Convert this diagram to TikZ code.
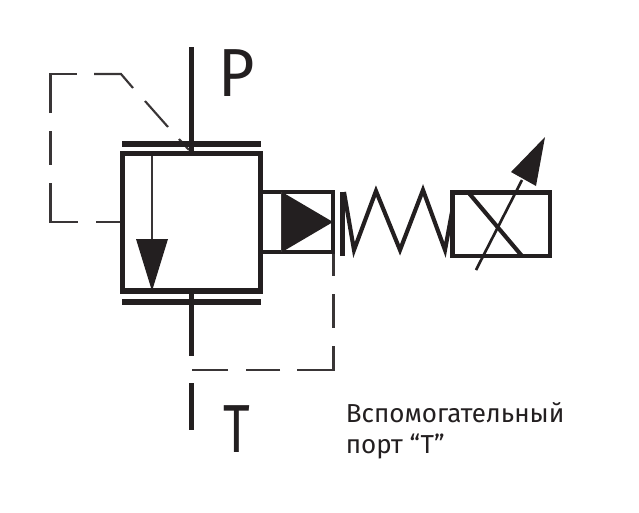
\documentclass[tikz,border=0pt]{standalone}
\usepackage{graphicx}
\usepackage{fontspec}
\setmainfont{Fira Sans}
\definecolor{ink}{RGB}{35,31,32}
\tikzset{
  heavy/.style={draw=ink,line width=3.9pt},
  medium/.style={draw=ink,line width=3.1pt,line join=miter},
  thinl/.style={draw=ink!90,line width=1.6pt},
  fillk/.style={fill=ink,draw=none},
  big/.style={text=ink,inner sep=0pt,anchor=center,font=\fontsize{51}{51}\selectfont},
  lbl/.style={text=ink,inner sep=0pt,anchor=base west,font=\fontsize{19.5}{19.5}\selectfont}
}
\begin{document}
\begin{tikzpicture}[x=0.75pt,y=-0.75pt]
\useasboundingbox (0,0) rectangle (639,512);
% dashed pilot lines
\draw[thinl,line join=miter] (50.5,113) -- (50.5,74) -- (77,74);
\draw[thinl,line join=miter] (94,74) -- (121,74) -- (133,88);
\draw[thinl] (145,101) -- (168,127);
\draw[thinl] (179,139) -- (189,150);
\draw[thinl] (50.5,131) -- (50.5,165);
\draw[thinl,line join=miter] (50.5,183) -- (50.5,222) -- (78,222);
\draw[thinl] (96,222) -- (122,222);
\draw[thinl] (333.5,252) -- (333.5,276);
\draw[thinl] (333.5,294) -- (333.5,328);
\draw[thinl,line join=miter] (333.5,346) -- (333.5,370) -- (297,370);
\draw[thinl] (280,370) -- (246,370);
\draw[thinl] (228,370) -- (192,370);
% main lines
\draw[heavy] (191.5,47) -- (191.5,153);
\draw[heavy] (122,144) -- (261,144);
\draw[heavy] (122,302) -- (261,302);
\draw[heavy] (191.5,291) -- (191.5,356);
\draw[heavy] (191.5,383) -- (191.5,430);
\draw[heavy,line join=miter] (122.5,153.5) rectangle (260.5,291);
% inner arrow
\draw[thinl] (152,156) -- (152,240);
\fill[fillk] (136,239) -- (168,239) -- (152,291) -- cycle;
% pilot piston
\draw[medium] (261,192) -- (333,192) -- (333,252) -- (261,252);
\draw[thinl] (282,192) -- (282,252);
\fill[fillk] (282,192) -- (333,222) -- (282,252) -- cycle;
% spring
\draw[heavy] (342.5,192) -- (342.5,256);
\draw[medium,miter limit=10] (344,192) -- (354,250) -- (376,191) -- (400,250) -- (423,190) -- (445,250) -- (452,212);
% solenoid
\draw[medium,line join=miter] (452.5,192.5) rectangle (550,256);
\draw[medium] (468,192) -- (522,256);
\draw[draw=ink,line width=2pt] (476,270) -- (522,180);
\fill[fillk] (545,137) -- (511,172) -- (536,186) -- cycle;
% labels
\node[big] (p) at (236.5,73.5) {\scalebox{0.92}[1]{P}};
\node[big] (t) at (236.5,429) {\scalebox{0.76}[1]{T}};
\node[lbl] (a) at (345.5,422) {Вспомогательный};
\node[lbl] (b) at (345.5,453) {порт “T”};
\end{tikzpicture}
\end{document}
